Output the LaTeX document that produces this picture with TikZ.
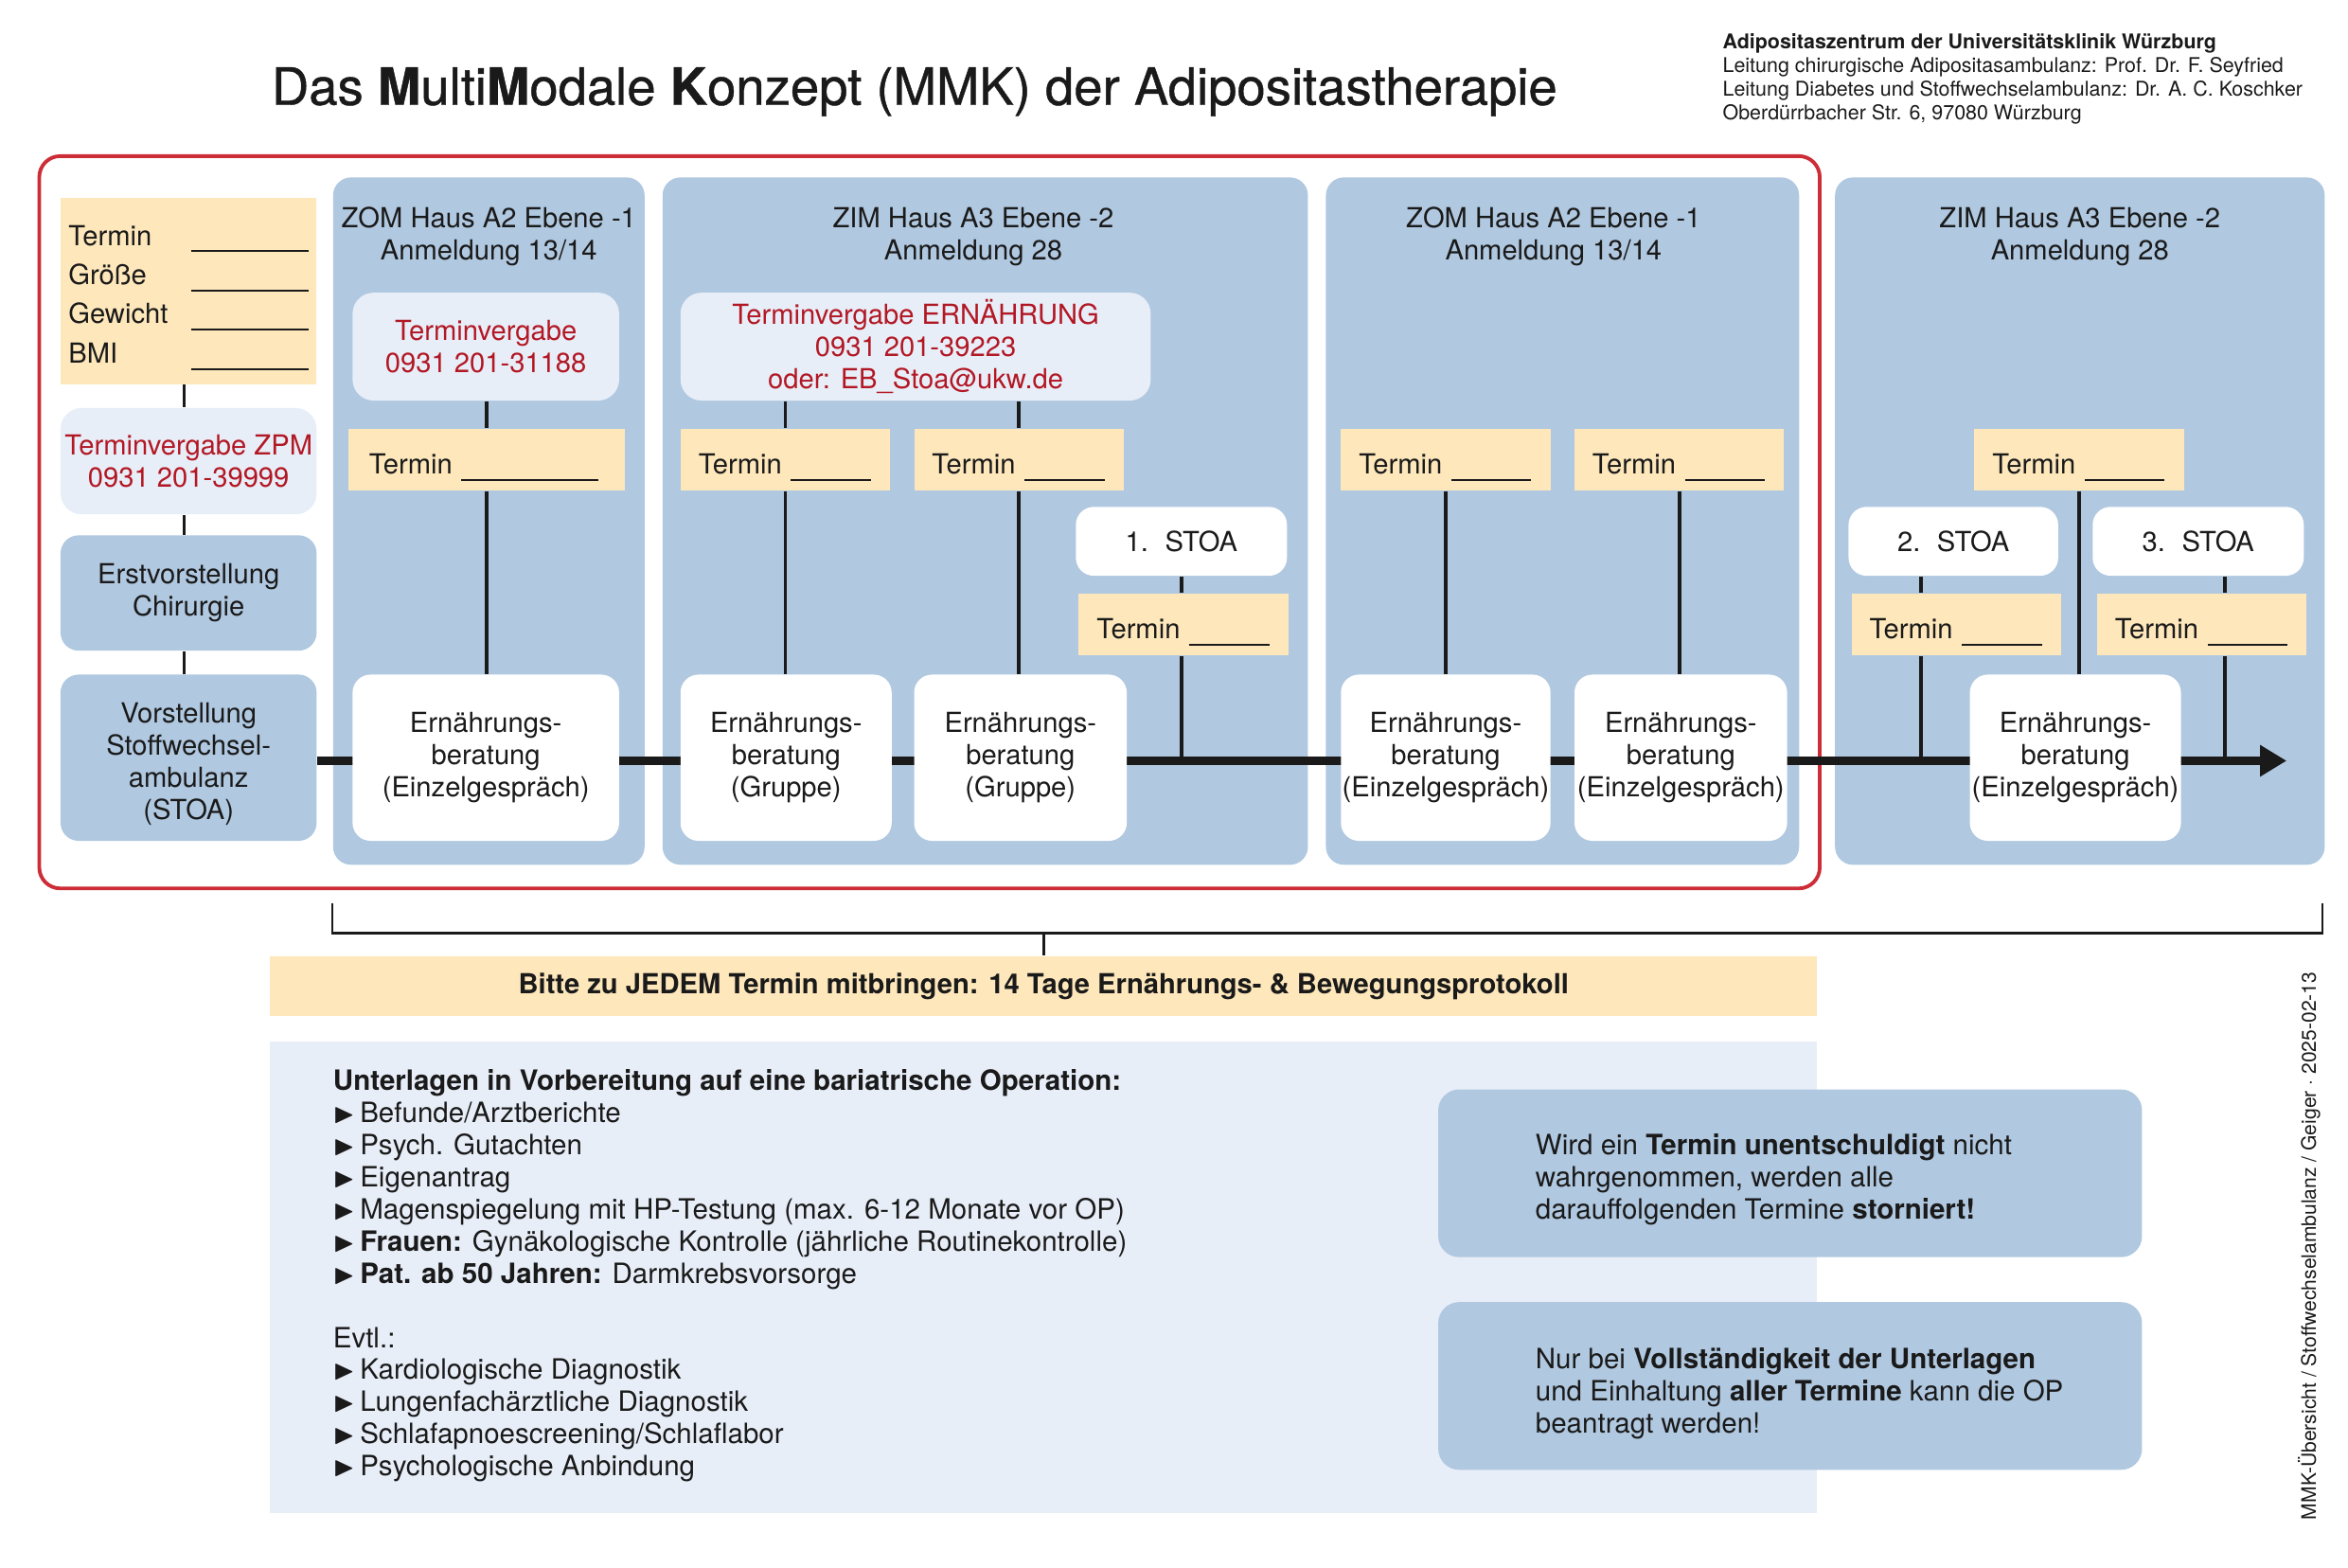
\documentclass[tikz,border=0pt]{standalone}
\usepackage{fontspec}
\setmainfont{TeX Gyre Heros}
\usepackage{amssymb}
\usetikzlibrary{positioning,arrows.meta}

\definecolor{panelblau}{RGB}{176,200,224}
\definecolor{hellblau}{RGB}{232,238,248}
\definecolor{termgelb}{RGB}{253,231,187}
\definecolor{rahmenrot}{RGB}{204,45,55}
\definecolor{textrot}{RGB}{178,24,36}
\definecolor{schrift}{RGB}{26,26,26}

\newlength\dpx
\setlength\dpx{0.15816mm}
\newcommand{\strich}[1]{\raisebox{-2pt}[0pt][0pt]{\rule{#1}{0.5pt}}}
\newcommand{\pfeil}{\makebox[18\dpx][l]{$\blacktriangleright$}}

\tikzstyle{kasten} = [rectangle, anchor=north west, inner sep=0pt, align=center, text=schrift]
\tikzstyle{panel} = [kasten, fill=panelblau, rounded corners=12\dpx, minimum height=459\dpx]
\tikzstyle{vergabe} = [kasten, fill=hellblau, rounded corners=14\dpx, text=textrot, minimum height=72\dpx]
\tikzstyle{termin} = [kasten, fill=termgelb, minimum width=140\dpx, minimum height=41\dpx, align=left, text width=116\dpx, inner xsep=12\dpx, text height=8.6pt, text depth=0pt]
\tikzstyle{beratung} = [kasten, fill=white, rounded corners=12\dpx, minimum height=111\dpx]
\tikzstyle{stoa} = [kasten, fill=white, rounded corners=12\dpx, minimum width=141\dpx, minimum height=46\dpx]
\tikzstyle{station} = [kasten, fill=panelblau, rounded corners=12\dpx, minimum width=171\dpx]
\tikzstyle{hinweisbox} = [kasten, fill=panelblau, rounded corners=14\dpx, minimum width=470\dpx, minimum height=112\dpx]
\tikzstyle{verbindung} = [line width=1.1pt, draw=schrift]
\tikzstyle{klammer} = [line width=0.7pt, draw=schrift]
\tikzstyle{zeitstrahl} = [line width=2.3pt, draw=schrift, -{Triangle[length=8pt, width=9pt]}]

\begin{document}
\begin{tikzpicture}[x=0.15816mm, y=-0.15816mm, font=\fontsize{8.3}{9.64}\selectfont]
	\useasboundingbox (0,0) rectangle (1568,1047);

	% Titel und Kopf
	\node (titel) [anchor=base west, inner sep=0pt, text=schrift, font=\fontsize{15.5}{18}\selectfont\addfontfeatures{FakeBold=0.8}] at (181,70) {Das \textbf{M}ulti\textbf{M}odale \textbf{K}onzept (MMK) der Adipositastherapie};
	\node (kopf) [anchor=north west, inner sep=0pt, align=left, text=schrift, font=\fontsize{6.1}{7.1}\selectfont] at (1150,22) {\textbf{Adipositaszentrum der Universitätsklinik Würzburg}\\Leitung chirurgische Adipositasambulanz: Prof. Dr. F. Seyfried\\Leitung Diabetes und Stoffwechselambulanz: Dr. A. C. Koschker\\Oberdürrbacher Str. 6, 97080 Würzburg};

	% Rahmen und Bereiche
	\node (rahmen) [kasten, draw=rahmenrot, line width=1.1pt, rounded corners=14\dpx, minimum width=1189\dpx, minimum height=489\dpx] at (25,103) {};
	\node (p1) [panel, minimum width=208\dpx] at (222,118) {};
	\node (p2) [panel, minimum width=431\dpx] at (442,118) {};
	\node (p3) [panel, minimum width=316\dpx] at (885,118) {};
	\node (p4) [panel, minimum width=327\dpx] at (1225,118) {};
	\node (h1) [below=20\dpx of p1.north, align=center, inner sep=0pt, text=schrift] {ZOM Haus A2 Ebene -1\\Anmeldung 13/14};
	\node (h2) [below=20\dpx of p2.north, xshift=-8\dpx, align=center, inner sep=0pt, text=schrift] {ZIM Haus A3 Ebene -2\\Anmeldung 28};
	\node (h3) [below=20\dpx of p3.north, xshift=-6\dpx, align=center, inner sep=0pt, text=schrift] {ZOM Haus A2 Ebene -1\\Anmeldung 13/14};
	\node (h4) [below=20\dpx of p4.north, align=center, inner sep=0pt, text=schrift] {ZIM Haus A3 Ebene -2\\Anmeldung 28};

	% linke Spalte
	\node (daten) [kasten, fill=termgelb, minimum width=171\dpx, minimum height=124\dpx, font=\fontsize{8.3}{11.8}\selectfont] at (40,132) {\rule{0pt}{7.8pt}\makebox[36.8pt][l]{Termin}\strich{35.4pt}\\\makebox[36.8pt][l]{Größe}\strich{35.4pt}\\\makebox[36.8pt][l]{Gewicht}\strich{35.4pt}\\\makebox[36.8pt][l]{BMI}\strich{35.4pt}};
	\node (zpm) [vergabe, minimum width=171\dpx, minimum height=71\dpx] at (40,272) {Terminvergabe ZPM\\0931 201-39999};
	\node (erst) [station, minimum height=77\dpx] at (40,357) {Erstvorstellung\\Chirurgie};
	\node (stoa) [station, minimum height=111\dpx] at (40,450) {\rule{0pt}{9.8pt}Vorstellung\\Stoffwechsel-\\ambulanz\\(STOA)};

	% Zeitstrahl
	\coordinate (spitze) at (1527,508);
	\draw [zeitstrahl] (stoa.east |- spitze) -- (spitze);

	% ZOM 1
	\node (tv1) [vergabe, minimum width=178\dpx] at (235,195) {Terminvergabe\\0931 201-31188};
	\node (t1) [termin, minimum width=185\dpx, text width=157\dpx, inner xsep=14\dpx] at (232,286) {Termin \strich{41pt}};
	\node (b1) [beratung, minimum width=178\dpx] at (235,450) {Ernährungs-\\beratung\\(Einzelgespräch)};

	% ZIM 1
	\node (tv2) [vergabe, minimum width=314\dpx] at (454,195) {Terminvergabe ERNÄHRUNG\\0931 201-39223\\oder: EB\_Stoa@ukw.de};
	\node (t2) [termin] at (454,286) {Termin \strich{24pt}};
	\node (t3) [termin] at (610,286) {Termin \strich{24pt}};
	\node (b2) [beratung, minimum width=141\dpx] at (454,450) {Ernährungs-\\beratung\\(Gruppe)};
	\node (b3) [beratung, minimum width=142\dpx] at (610,450) {Ernährungs-\\beratung\\(Gruppe)};
	\node (s1) [stoa] at (718,338) {1.\hspace{0.6em}STOA};
	\node (t4) [termin] at (720,396) {Termin \strich{24pt}};

	% ZOM 2
	\node (t5) [termin] at (895,286) {Termin \strich{24pt}};
	\node (t6) [termin] at (1051,286) {Termin \strich{24pt}};
	\node (b4) [beratung, minimum width=140\dpx] at (895,450) {Ernährungs-\\beratung\\(Einzelgespräch)};
	\node (b5) [beratung, minimum width=142\dpx] at (1051,450) {Ernährungs-\\beratung\\(Einzelgespräch)};

	% ZIM 2
	\node (t7) [termin] at (1318,286) {Termin \strich{24pt}};
	\node (s2) [stoa, minimum width=140\dpx] at (1234,338) {2.\hspace{0.6em}STOA};
	\node (s3) [stoa] at (1397,338) {3.\hspace{0.6em}STOA};
	\node (t8) [termin] at (1236,396) {Termin \strich{24pt}};
	\node (t9) [termin] at (1400,396) {Termin \strich{24pt}};
	\node (b6) [beratung, minimum width=141\dpx] at (1315,450) {Ernährungs-\\beratung\\(Einzelgespräch)};
	\coordinate (x2) at (1283,0);
	\coordinate (x3) at (1486,0);

	% Verbindungen
	\draw [verbindung] ([xshift=-3\dpx]daten.south) -- ([xshift=-3\dpx]zpm.north);
	\draw [verbindung] ([xshift=-3\dpx]zpm.south) -- ([xshift=-3\dpx]erst.north);
	\draw [verbindung] ([xshift=-3\dpx]erst.south) -- ([xshift=-3\dpx]stoa.north);
	\draw [verbindung] (t1.north |- tv1.south) -- (t1.north);
	\draw [verbindung] (t1.south) -- (t1.south |- b1.north);
	\draw [verbindung] (tv2.south -| t2.north) -- (t2.north);
	\draw [verbindung] (tv2.south -| t3.north) -- (t3.north);
	\draw [verbindung] (t2.south) -- (t2.south |- b2.north);
	\draw [verbindung] (t3.south) -- (t3.south |- b3.north);
	\draw [verbindung] (s1.south) -- (s1.south |- t4.north);
	\draw [verbindung] (s1.south |- t4.south) -- (s1.south |- spitze);
	\draw [verbindung] (t5.south) -- (t5.south |- b4.north);
	\draw [verbindung] (t6.south) -- (t6.south |- b5.north);
	\draw [verbindung] (t7.south) -- (t7.south |- b6.north);
	\draw [verbindung] (s2.south -| x2) -- (t8.north -| x2);
	\draw [verbindung] (t8.south -| x2) -- (spitze -| x2);
	\draw [verbindung] (s3.south -| x3) -- (t9.north -| x3);
	\draw [verbindung] (t9.south -| x3) -- (spitze -| x3);

	% unterer Teil
	\node (hinweis) [kasten, fill=termgelb, minimum width=1033\dpx, minimum height=40\dpx, font=\fontsize{8.3}{9.64}\selectfont\bfseries] at (180,638) {Bitte zu JEDEM Termin mitbringen: 14 Tage Ernährungs- \& Bewegungsprotokoll};
	\coordinate (kl) at (222,603);
	\coordinate (kr) at (1551,603);
	\draw [klammer] (kl) -- ++(0,20) -| (kr);
	\draw [klammer] (hinweis.north) -- ++(0,-15);

	\node (unterlagen) [kasten, fill=hellblau, minimum width=1033\dpx, minimum height=315\dpx] at (180,695) {};
	\node (liste) [right=42\dpx of unterlagen.west, yshift=1\dpx, align=left, inner sep=0pt, text=schrift, font=\fontsize{8.4}{9.64}\selectfont] {\textbf{Unterlagen in Vorbereitung auf eine bariatrische Operation:}\\\pfeil Befunde/Arztberichte\\\pfeil Psych. Gutachten\\\pfeil Eigenantrag\\\pfeil Magenspiegelung mit HP-Testung (max. 6-12 Monate vor OP)\\\pfeil \textbf{Frauen:} Gynäkologische Kontrolle (jährliche Routinekontrolle)\\\pfeil \textbf{Pat. ab 50 Jahren:} Darmkrebsvorsorge\\[9.64pt]Evtl.:\\\pfeil Kardiologische Diagnostik\\\pfeil Lungenfachärztliche Diagnostik\\\pfeil Schlafapnoescreening/Schlaflabor\\\pfeil Psychologische Anbindung};

	\node (warnung) [hinweisbox] at (960,727) {};
	\node (warntext) [right=65\dpx of warnung.west, yshift=-4\dpx, align=left, inner sep=0pt, text=schrift, font=\fontsize{8.4}{9.64}\selectfont] {Wird ein \textbf{Termin unentschuldigt} nicht\\wahrgenommen, werden alle\\darauffolgenden Termine \textbf{storniert!}};
	\node (bedingung) [hinweisbox] at (960,869) {};
	\node (bedingtext) [right=65\dpx of bedingung.west, yshift=-5\dpx, align=left, inner sep=0pt, text=schrift, font=\fontsize{8.4}{9.64}\selectfont] {Nur bei \textbf{Vollständigkeit der Unterlagen}\\und Einhaltung \textbf{aller Termine} kann die OP\\beantragt werden!};

	\node (vermerk) [rotate=90, inner sep=0pt, text=schrift, font=\fontsize{6}{7}\selectfont] at (1542,832) {MMK-Übersicht / Stoffwechselambulanz / Geiger · 2025-02-13};
\end{tikzpicture}
\end{document}
